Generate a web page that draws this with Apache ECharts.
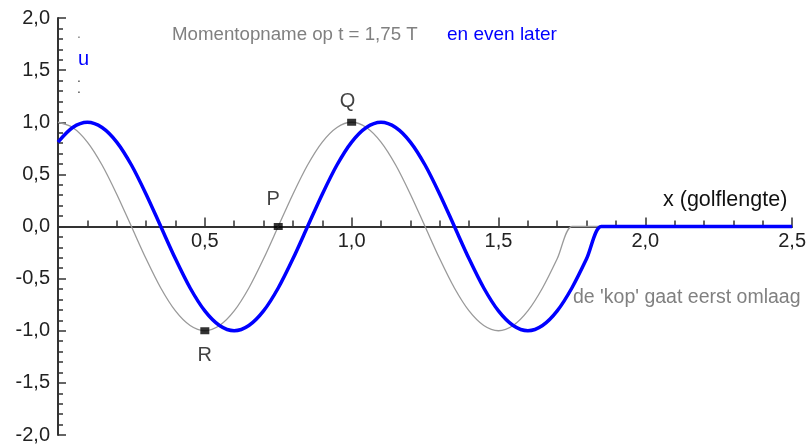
<!DOCTYPE html>
<html>
<head>
<meta charset="utf-8">
<script src="https://cdn.jsdelivr.net/npm/echarts@6/dist/echarts.min.js"></script>
<style>
  html, body { margin: 0; padding: 0; background: #fff; }
  #chart { width: 809px; height: 447px; }
</style>
</head>
<body>
<div id="chart"></div>
<script>
// Position along the rope, in wavelengths
const xs = [0, 0.05, 0.1, 0.15, 0.2, 0.25, 0.3, 0.35, 0.4, 0.45,
            0.5, 0.55, 0.6, 0.65, 0.7, 0.75, 0.8, 0.85, 0.9, 0.95,
            1.0, 1.05, 1.1, 1.15, 1.2, 1.25, 1.3, 1.35, 1.4, 1.45,
            1.5, 1.55, 1.6, 1.65, 1.7, 1.75, 1.8, 1.85, 1.9, 1.95,
            2.0, 2.05, 2.1, 2.15, 2.2, 2.25, 2.3, 2.35, 2.4, 2.45, 2.5];

// Displacement u at t = 1,75 T
const uSnapshot = [1, 0.95, 0.81, 0.59, 0.31, 0, -0.31, -0.59, -0.81, -0.95,
                   -1, -0.95, -0.81, -0.59, -0.31, 0, 0.31, 0.59, 0.81, 0.95,
                   1, 0.95, 0.81, 0.59, 0.31, 0, -0.31, -0.59, -0.81, -0.95,
                   -1, -0.95, -0.81, -0.59, -0.31, 0, 0, 0, 0, 0,
                   0, 0, 0, 0, 0, 0, 0, 0, 0, 0, 0];

// Displacement u a little later
const uLater = [0.81, 0.95, 1, 0.95, 0.81, 0.59, 0.31, 0, -0.31, -0.59,
                -0.81, -0.95, -1, -0.95, -0.81, -0.59, -0.31, 0, 0.31, 0.59,
                0.81, 0.95, 1, 0.95, 0.81, 0.59, 0.31, 0, -0.31, -0.59,
                -0.81, -0.95, -1, -0.95, -0.81, -0.59, -0.31, 0, 0, 0,
                0, 0, 0, 0, 0, 0, 0, 0, 0, 0, 0];

// Marked points on the snapshot
const pointNames = ['P', 'Q', 'R'];
const pointX = [0.75, 1.0, 0.5];
const pointY = [0, 1.0, -1.0];

const FONT = '"Liberation Sans", Arial, sans-serif';
const fmt = v => v.toFixed(1).replace('.', ',');

const GRID_TOP = 18, GRID_BOTTOM = 12, H = 447;
const yMin = -2, yMax = 2;
// lift the x axis from the bottom of the grid up to u = 0
const plotH = H - GRID_TOP - GRID_BOTTOM;
const xAxisOffset = -plotH * (0 - yMin) / (yMax - yMin);

const chart = echarts.init(document.getElementById('chart'));

const labelPos = { P: [-5, -27], Q: [-4, -21], R: [0, 25] };

chart.setOption({
  animation: false,
  backgroundColor: '#fff',
  textStyle: { fontFamily: FONT },
  grid: { left: 58, right: 16, top: GRID_TOP, bottom: GRID_BOTTOM, containLabel: false },
  xAxis: {
    type: 'value',
    position: 'bottom',
    offset: xAxisOffset,
    min: 0, max: 2.5, interval: 0.5,
    axisLine: { show: true, onZero: false, lineStyle: { color: '#333', width: 2 } },
    axisTick: { show: true, inside: true, length: 9, lineStyle: { color: '#333', width: 1.5 } },
    minorTick: { show: true, splitNumber: 5, length: 6, lineStyle: { color: '#333', width: 1.5 } },
    axisLabel: {
      margin: 5, fontSize: 20, color: '#222', fontFamily: FONT,
      formatter: v => (v === 0 ? '' : fmt(v))
    },
    splitLine: { show: false }
  },
  yAxis: {
    type: 'value',
    min: yMin, max: yMax, interval: 0.5,
    axisLine: { show: true, onZero: false, lineStyle: { color: '#333', width: 2 } },
    axisTick: { show: true, inside: true, length: 8, lineStyle: { color: '#333', width: 1.5 } },
    minorTick: { show: true, splitNumber: 5, length: 5, lineStyle: { color: '#333', width: 1.5 } },
    axisLabel: { margin: 8, fontSize: 20, color: '#222', fontFamily: FONT, formatter: fmt },
    splitLine: { show: false }
  },
  series: [
    {
      name: 'Momentopname op t = 1,75 T',
      type: 'line',
      data: xs.map((x, i) => [x, uSnapshot[i]]),
      smooth: 0.3,
      symbol: 'none',
      lineStyle: { color: '#9a9a9a', width: 1.3 },
      z: 3
    },
    {
      name: 'en even later',
      type: 'line',
      data: xs.map((x, i) => [x, uLater[i]]),
      smooth: 0.3,
      symbol: 'none',
      lineStyle: { color: '#0000ff', width: 3.5 },
      z: 4
    },
    {
      name: 'punten',
      type: 'scatter',
      data: pointNames.map((n, i) => ({
        name: n,
        value: [pointX[i], pointY[i]],
        label: { offset: labelPos[n] }
      })),
      symbol: 'rect',
      symbolSize: [9, 7],
      itemStyle: { color: '#000' },
      label: {
        show: true, position: 'inside', formatter: '{b}',
        fontSize: 20, color: '#111', fontFamily: FONT
      },
      z: 5
    }
  ],
  graphic: [
    { type: 'text', x: 172, y: 35,
      style: { text: 'Momentopname op t = 1,75 T', fill: '#808080', font: '18.7px ' + FONT, verticalAlign: 'middle' } },
    { type: 'text', x: 447, y: 35,
      style: { text: 'en even later', fill: '#0000ff', font: '19px ' + FONT, verticalAlign: 'middle' } },
    { type: 'text', x: 663, y: 200,
      style: { text: 'x (golflengte)', fill: '#111', font: '21.5px ' + FONT, verticalAlign: 'middle' } },
    { type: 'text', x: 573, y: 298,
      style: { text: "de 'kop' gaat eerst omlaag", fill: '#808080', font: '19.5px ' + FONT, verticalAlign: 'middle' } },
    { type: 'text', x: 77, y: 34,
      style: { text: '.', fill: '#777', font: '14px ' + FONT, verticalAlign: 'middle' } },
    { type: 'text', x: 78, y: 59,
      style: { text: 'u', fill: '#0000ff', font: '20px ' + FONT, verticalAlign: 'middle' } },
    { type: 'text', x: 77, y: 78,
      style: { text: '.', fill: '#444', font: '14px ' + FONT, verticalAlign: 'middle' } },
    { type: 'text', x: 77, y: 89,
      style: { text: '.', fill: '#444', font: '14px ' + FONT, verticalAlign: 'middle' } }
  ]
});
</script>
</body>
</html>
